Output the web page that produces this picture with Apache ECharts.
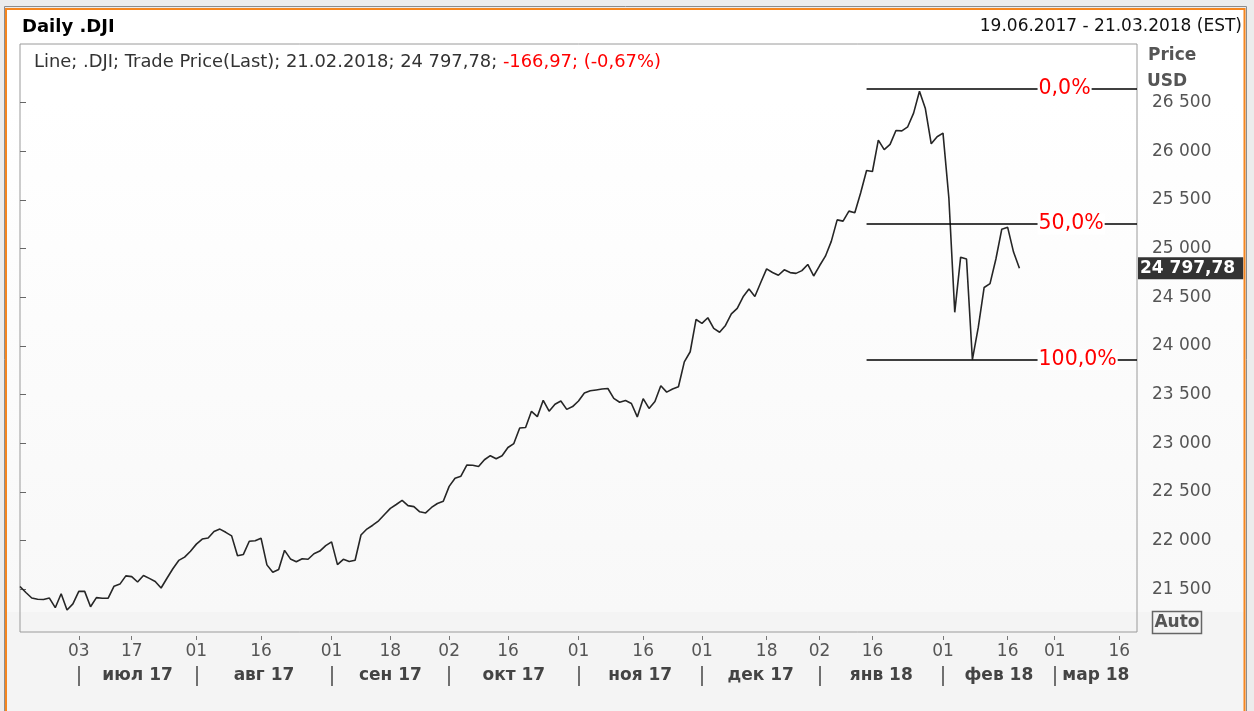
<!DOCTYPE html>
<html>
<head>
<meta charset="utf-8">
<title>Daily .DJI</title>
<script src="https://cdn.jsdelivr.net/npm/echarts@6/dist/echarts.min.js"></script>
<style>
  html, body { margin: 0; padding: 0; background: #ececec; }
  #main { width: 1254px; height: 711px; }
</style>
</head>
<body>
<div id="main"></div>
<script>
const startDate = '2017-06-19';
const endDate = '2018-03-21';
const holidays = ['2017-07-04', '2017-09-04', '2017-11-23', '2017-12-25', '2018-01-01', '2018-01-15', '2018-02-19'];

// daily closes, 19.06.2017 .. 21.02.2018
const closes = [
  21528.99, 21467.14, 21410.03, 21397.29, 21394.76, 21409.55, 21310.66, 21454.61, 21287.03, 21349.63,
  21479.27, 21478.17, 21320.04, 21414.34, 21408.52, 21409.07, 21532.14, 21553.09, 21637.74, 21629.72,
  21574.73, 21640.75, 21611.78, 21580.07, 21513.17, 21613.43, 21711.01, 21796.55, 21830.31, 21891.12,
  21963.92, 22016.24, 22026.10, 22092.81, 22118.42, 22085.34, 22048.70, 21844.01, 21858.32, 21993.71,
  21998.99, 22024.87, 21750.73, 21674.51, 21703.75, 21899.89, 21812.09, 21783.40, 21813.67, 21808.40,
  21865.37, 21892.43, 21948.10,
  21987.56, 21753.31, 21807.64, 21784.78, 21797.79, 22057.37, 22118.86, 22158.18, 22203.48, 22268.34,
  22331.35, 22370.80, 22412.59, 22359.23, 22349.59, 22296.09, 22284.32, 22340.71, 22381.20, 22405.09,
  22557.60, 22641.67, 22661.64, 22775.39, 22773.67, 22761.07, 22830.68, 22872.89, 22841.01, 22871.72,
  22956.96, 22997.44, 23157.60, 23163.04, 23328.63, 23273.96, 23441.76, 23329.46, 23400.86, 23434.19,
  23348.74, 23377.24,
  23435.01, 23516.26, 23539.19, 23548.42, 23557.23, 23563.36, 23461.94, 23422.21, 23439.70, 23409.47,
  23271.28, 23458.36, 23358.24, 23430.33, 23590.83, 23526.18, 23557.99, 23580.78, 23836.71, 23940.68,
  24272.35,
  24231.59, 24290.05, 24180.64, 24140.91, 24211.48, 24329.16, 24386.03, 24504.80, 24585.43, 24508.66,
  24651.74, 24792.20, 24754.75, 24726.65, 24782.29, 24754.06, 24746.21, 24774.30, 24837.51, 24719.22,
  24824.01, 24922.68, 25075.13, 25295.87, 25283.00, 25385.80, 25369.13, 25574.73, 25803.19, 25792.86,
  26115.65, 26017.81, 26071.72, 26214.60, 26210.81, 26252.12, 26392.79, 26616.71, 26439.48, 26076.89,
  26149.39,
  26186.71, 25520.96, 24345.75, 24912.77, 24893.35, 23860.46, 24190.90, 24601.27, 24640.45, 24893.49,
  25200.37, 25219.38, 24964.75, 24797.78
];

const tickDates = ['2017-07-03', '2017-07-17', '2017-08-01', '2017-08-16', '2017-09-01', '2017-09-18',
  '2017-10-02', '2017-10-16', '2017-11-01', '2017-11-16', '2017-12-01', '2017-12-18',
  '2018-01-02', '2018-01-16', '2018-02-01', '2018-02-16', '2018-03-01', '2018-03-16'];
const monthStarts = ['2017-07-03', '2017-08-01', '2017-09-01', '2017-10-02', '2017-11-01',
  '2017-12-01', '2018-01-02', '2018-02-01', '2018-03-01'];
const monthLabels = ['июл 17', 'авг 17', 'сен 17', 'окт 17', 'ноя 17', 'дек 17', 'янв 18', 'фев 18', 'мар 18'];
const yTicks = [21500, 22000, 22500, 23000, 23500, 24000, 24500, 25000, 25500, 26000, 26500];

const fibLevels = [0, 0.5, 1];
const fibLabels = ['0,0%', '50,0%', '100,0%'];
const fibHigh = 26648;
const fibLow = 23860.46;
const fibFrom = '2018-01-12';
const fibLabelAt = '2018-02-26';

const FONT = '"DejaVu Sans", "Noto Sans", sans-serif';

function tradingDays(from, to) {
  const out = [];
  const d = new Date(from + 'T00:00:00Z');
  const end = new Date(to + 'T00:00:00Z');
  while (d <= end) {
    const s = d.toISOString().slice(0, 10);
    const wd = d.getUTCDay();
    if (wd !== 0 && wd !== 6 && holidays.indexOf(s) < 0) out.push(s);
    d.setUTCDate(d.getUTCDate() + 1);
  }
  return out;
}

function fmt(v, dec) {
  const parts = Math.abs(v).toFixed(dec).split('.');
  parts[0] = parts[0].replace(/\B(?=(\d{3})+(?!\d))/g, ' ');
  return (v < 0 ? '-' : '') + parts.join(',');
}

const days = tradingDays(startDate, endDate);
const lastIdx = closes.length - 1;
const last = closes[lastIdx];
const change = last - closes[lastIdx - 1];
const pct = change / closes[lastIdx - 1] * 100;
const lastDay = days[lastIdx].split('-').reverse().join('.');

const monthStartIdx = monthStarts.map(d => days.indexOf(d));
const monthMidIdx = monthStartIdx.map((s, i) => (s + (i < monthStartIdx.length - 1 ? monthStartIdx[i + 1] : days.length - 1)) / 2);

const fibValues = fibLevels.map(l => fibHigh - l * (fibHigh - fibLow));

const chart = echarts.init(document.getElementById('main'));

const option = {
  animation: false,
  backgroundColor: '#ececec',
  title: [
    {
      text: 'Daily .DJI', left: 22, top: 18, padding: 0,
      textStyle: { fontFamily: FONT, fontSize: 18, fontWeight: 'bold', color: '#000' }
    },
    {
      text: '19.06.2017 - 21.03.2018 (EST)', right: 12, top: 18, padding: 0,
      textStyle: { fontFamily: FONT, fontSize: 17, fontWeight: 'normal', color: '#111' }
    },
    {
      text: '{a|Line; .DJI; Trade Price(Last); ' + lastDay + '; ' + fmt(last, 2) + '; }{b|' +
        fmt(change, 2) + '; (' + fmt(pct, 2) + '%)}',
      left: 34, top: 53, padding: 0,
      textStyle: {
        fontWeight: 'normal',
        rich: {
          a: { fontFamily: FONT, fontSize: 17.9, fontWeight: 'normal', color: '#333' },
          b: { fontFamily: FONT, fontSize: 17.9, fontWeight: 'normal', color: '#f00' }
        }
      }
    },
    {
      text: 'Price', left: 1148, top: 47, padding: 0,
      textStyle: { fontFamily: FONT, fontSize: 17, fontWeight: 'bold', color: '#555' }
    },
    {
      text: 'USD', left: 1147, top: 73, padding: 0,
      textStyle: { fontFamily: FONT, fontSize: 17, fontWeight: 'bold', color: '#555' }
    }
  ],
  graphic: [
    { type: 'rect', z: -10, shape: { x: 7, y: 10, width: 1237, height: 602 },
      style: { fill: new echarts.graphic.LinearGradient(0, 0, 0, 1, [
        { offset: 0, color: '#ffffff' }, { offset: 0.15, color: '#ffffff' }, { offset: 1, color: '#f8f8f8' }
      ]) } },
    { type: 'rect', z: -10, shape: { x: 7, y: 612, width: 1237, height: 99 }, style: { fill: '#f4f4f4' } },
    { type: 'rect', z: -9, shape: { x: 4.5, y: 6.5, width: 1242, height: 720 },
      style: { fill: null, stroke: '#8c8c8c', lineWidth: 1 } },
    { type: 'rect', z: -8, shape: { x: 6, y: 9, width: 1238.5, height: 720 },
      style: { fill: null, stroke: '#f5861f', lineWidth: 2 } },
    { type: 'group', left: 1150, top: 609, z: 10, children: [
      { type: 'rect', shape: { x: 0, y: 0, width: 49, height: 22 },
        style: { fill: null, stroke: '#666', lineWidth: 1.5 } },
      { type: 'text', x: 24.5, y: 11.5,
        style: { text: 'Auto', fill: '#555', font: 'bold 17px ' + FONT, align: 'center', verticalAlign: 'middle' } }
    ] }
  ],
  grid: {
    left: 20, right: 117, top: 44, bottom: 79,
    show: true, borderColor: '#9a9a9a', borderWidth: 1, backgroundColor: 'transparent',
    outerBoundsMode: 'none'
  },
  xAxis: [
    {
      type: 'category', data: days, boundaryGap: false, offset: 4,
      axisLine: { show: false },
      axisTick: { show: true, length: 4, interval: (i, v) => tickDates.indexOf(v) >= 0, lineStyle: { color: '#777' } },
      axisLabel: {
        interval: (i, v) => tickDates.indexOf(v) >= 0, formatter: v => v.slice(8),
        margin: 7, color: '#555', fontSize: 17, fontFamily: FONT
      },
      splitLine: { show: false }
    },
    {
      type: 'value', min: 0, max: days.length - 1, position: 'bottom', offset: 34,
      axisLine: { show: false },
      axisTick: { show: true, customValues: monthStartIdx, length: 20, lineStyle: { color: '#444', width: 1.5 } },
      axisLabel: {
        customValues: monthMidIdx, formatter: v => monthLabels[monthMidIdx.indexOf(v)],
        margin: 1, color: '#444', fontSize: 17, fontWeight: 'bold', fontFamily: FONT
      },
      splitLine: { show: false }
    }
  ],
  yAxis: {
    type: 'value', position: 'right', min: 21061, max: 27103,
    axisLine: { show: false },
    axisTick: { show: true, customValues: yTicks, length: 6, lineStyle: { color: '#666' } },
    axisLabel: {
      customValues: yTicks, formatter: v => fmt(v, 0), margin: 15,
      color: '#555', fontSize: 17, fontFamily: FONT, padding: [4, 0, 0, 0]
    },
    splitLine: { show: false }
  },
  series: [{
    type: 'line',
    xAxisIndex: 0,
    data: closes,
    symbol: 'none',
    lineStyle: { color: '#262626', width: 1.6 },
    markLine: {
      symbol: ['none', 'none'],
      silent: true,
      data: fibValues.map(v => [
        { coord: [days.indexOf(fibFrom), v], lineStyle: { color: '#000', width: 1.5, type: 'solid' }, label: { show: false } },
        { coord: [days.length - 1, v] }
      ]).concat([{
        yAxis: last,
        lineStyle: { color: 'rgba(0,0,0,0)', width: 0 },
        label: {
          show: true, position: 'end', distance: 1, formatter: fmt(last, 2),
          backgroundColor: '#333', color: '#fff', fontWeight: 'bold', fontSize: 17, fontFamily: FONT,
          padding: [3, 8, 2, 2]
        }
      }])
    },
    markPoint: {
      z: 10,
      symbol: 'rect',
      symbolSize: 1,
      silent: true,
      itemStyle: { color: 'rgba(0,0,0,0)' },
      label: {
        show: true, position: 'right', distance: 0,
        color: '#f00', fontSize: 20.5, fontFamily: FONT,
        backgroundColor: '#fff', padding: [0, 1],
        formatter: p => p.name
      },
      data: fibValues.map((v, i) => ({ name: fibLabels[i], coord: [days.indexOf(fibLabelAt), v] }))
    }
  }]
};

chart.setOption(option);
window.addEventListener('resize', () => chart.resize());
</script>
</body>
</html>
